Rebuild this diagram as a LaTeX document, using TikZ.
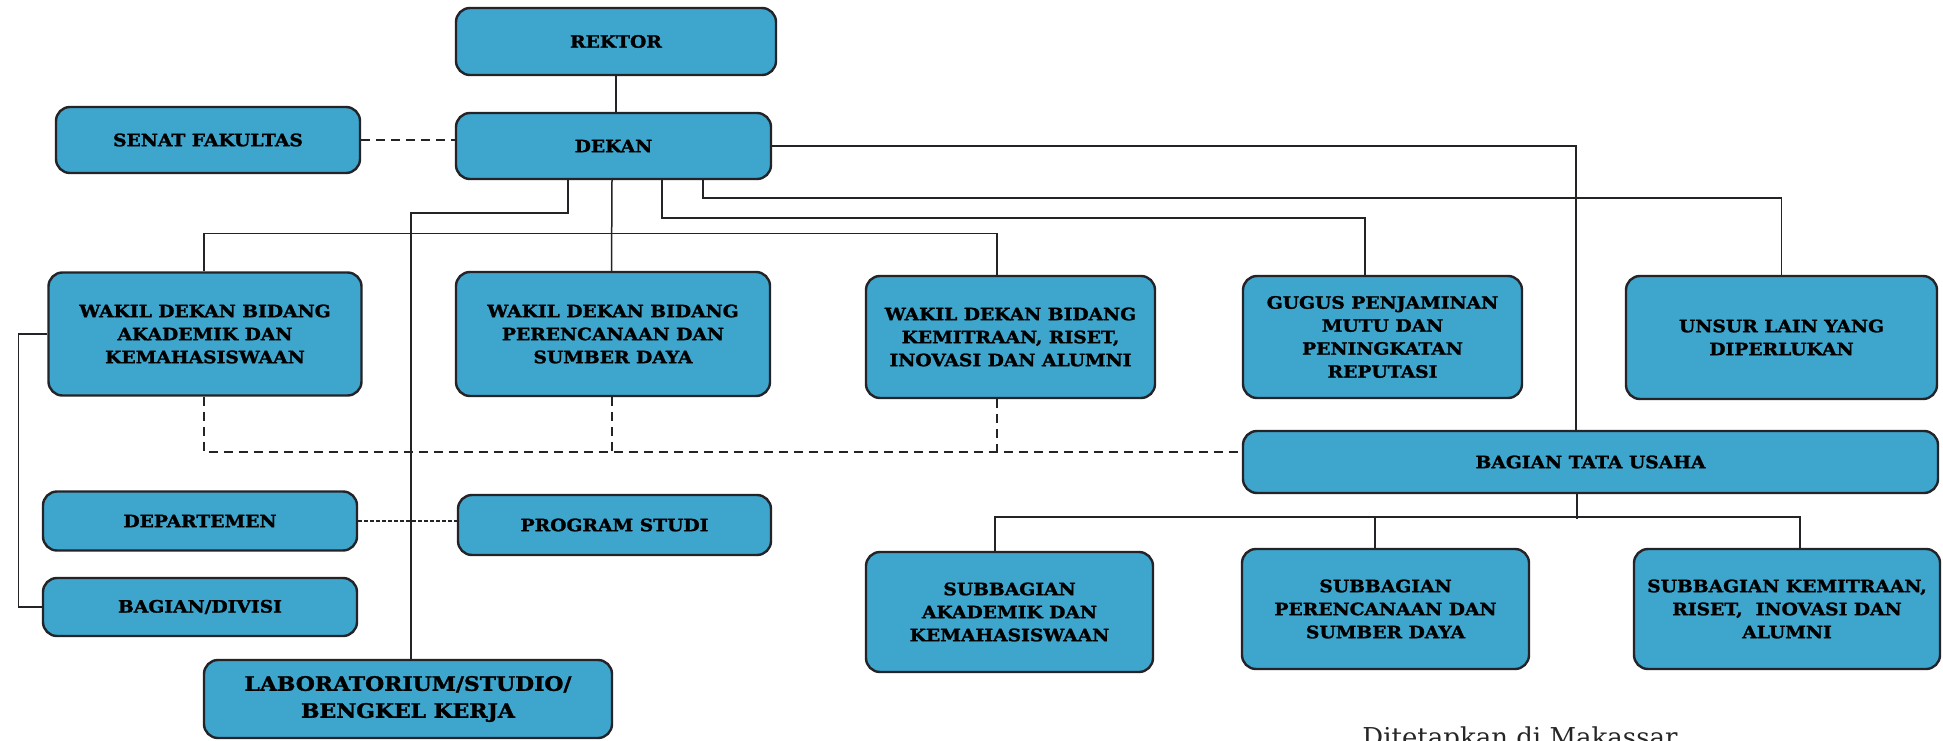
\documentclass[tikz,border=0pt]{standalone}
\usepackage{fontspec}
\setmainfont{DejaVu Serif}
\newfontfamily\boxfont{DejaVu Serif}[FakeStretch=1.1, BoldFeatures={FakeBold=1.5}]
\usetikzlibrary{calc}
\definecolor{boxblue}{RGB}{62,165,204}
\definecolor{edgecol}{RGB}{35,35,40}
\tikzset{
  orgbox/.style={draw=edgecol, fill=boxblue, line width=2.4pt, rounded corners=14pt,
    align=center, inner sep=0pt, text=black,
    font=\boxfont\bfseries\fontsize{17}{23}\selectfont},
  link/.style={draw=edgecol, line width=1.5pt},
  dlink/.style={link, dash pattern=on 9pt off 6pt},
  ddlink/.style={link, dash pattern=on 4pt off 2pt},
}
\newcommand{\orgnode}[6]{\node[orgbox, minimum width=#4pt, minimum height=#5pt] (#1) at (#2,#3) {#6};}
\begin{document}
\begin{tikzpicture}[x=1pt,y=-1pt]
\useasboundingbox (0,0) rectangle (1943,741);
\clip (0,0) rectangle (1943,741);
% boxes
\orgnode{rektor}{616}{41.5}{320}{67}{REKTOR}
\orgnode{senat}{208}{140}{304}{66}{SENAT FAKULTAS}
\orgnode{dekan}{613.5}{146}{315}{66}{DEKAN}
\orgnode{wka}{205}{334}{313}{123}{WAKIL DEKAN BIDANG\\AKADEMIK DAN\\KEMAHASISWAAN}
\orgnode{wkb}{613}{334}{314}{124}{WAKIL DEKAN BIDANG\\PERENCANAAN DAN\\SUMBER DAYA}
\orgnode{wkc}{1010.5}{337}{289}{122}{WAKIL DEKAN BIDANG\\KEMITRAAN, RISET,\\INOVASI DAN ALUMNI}
\orgnode{gugus}{1382.5}{337}{279}{122}{GUGUS PENJAMINAN\\MUTU DAN\\PENINGKATAN\\REPUTASI}
\orgnode{unsur}{1781.5}{337.5}{311}{123}{UNSUR LAIN YANG\\DIPERLUKAN}
\orgnode{tu}{1590.5}{462}{695}{62}{BAGIAN TATA USAHA}
\orgnode{dept}{200}{521}{314}{59}{DEPARTEMEN}
\orgnode{prodi}{614.5}{525}{313}{60}{PROGRAM STUDI}
\orgnode{bagdiv}{200}{607}{314}{58}{BAGIAN/DIVISI}
\node[orgbox, minimum width=408pt, minimum height=78pt, font=\boxfont\bfseries\fontsize{19.9}{27}\selectfont] (lab) at (408,699) {LABORATORIUM/STUDIO/\\BENGKEL KERJA};
\orgnode{suba}{1009.5}{612}{287}{120}{SUBBAGIAN\\AKADEMIK DAN\\KEMAHASISWAAN}
\orgnode{subb}{1385.5}{609}{287}{120}{SUBBAGIAN\\PERENCANAAN DAN\\SUMBER DAYA}
\orgnode{subc}{1787}{609}{306}{120}{SUBBAGIAN KEMITRAAN,\\RISET,\ \ INOVASI DAN\\ALUMNI}
\node[anchor=base, font=\fontsize{26}{30}\selectfont, text=black!85] (ditetapkan) at (1520,746) {Ditetapkan di Makassar};
% connectors
\draw[link] (rektor.south) -- (rektor.south |- dekan.north);
\draw[dlink] (senat.east) -- (senat.east -| dekan.west);
\draw[link] (dekan.east) -| ([xshift=-14.5pt]tu.north);
\draw[link] ([xshift=-45.5pt]dekan.south) -- ++(0,33) -| ([xshift=3pt]lab.north);
\draw[link] ([xshift=-1.5pt]dekan.south) -- ([xshift=-1.5pt]wkb.north);
\draw[link] ([xshift=-1pt]wka.north) -- ++(0,-37.7) -| ([xshift=-13.5pt]wkc.north);
\draw[link] ([xshift=48.5pt]dekan.south) -- ++(0,38) -| ([xshift=-17.5pt]gugus.north);
\draw[link] ([xshift=89.5pt]dekan.south) -- ++(0,18) -| (unsur.north);
\draw[link] (wka.west) -- ++(-29,0) |- (bagdiv.west);
\draw[dlink] ([xshift=-1pt]wka.south) |- ([yshift=10pt]tu.west);
\draw[dlink] ([xshift=-1pt]wkb.south) -- ++(0,56);
\draw[dlink] ([xshift=-13.5pt]wkc.south) -- ++(0,56);
\draw[ddlink] (dept.east) -- (dept.east -| prodi.west);
\draw[link] ([xshift=-13.5pt]tu.south) -- ++(0,25);
\draw[link] ([xshift=-14.5pt]suba.north) -- ++(0,-34) -| ([xshift=13pt]subc.north);
\draw[link] ([xshift=-10.5pt]subb.north) -- ++(0,-31);
\end{tikzpicture}
\end{document}
